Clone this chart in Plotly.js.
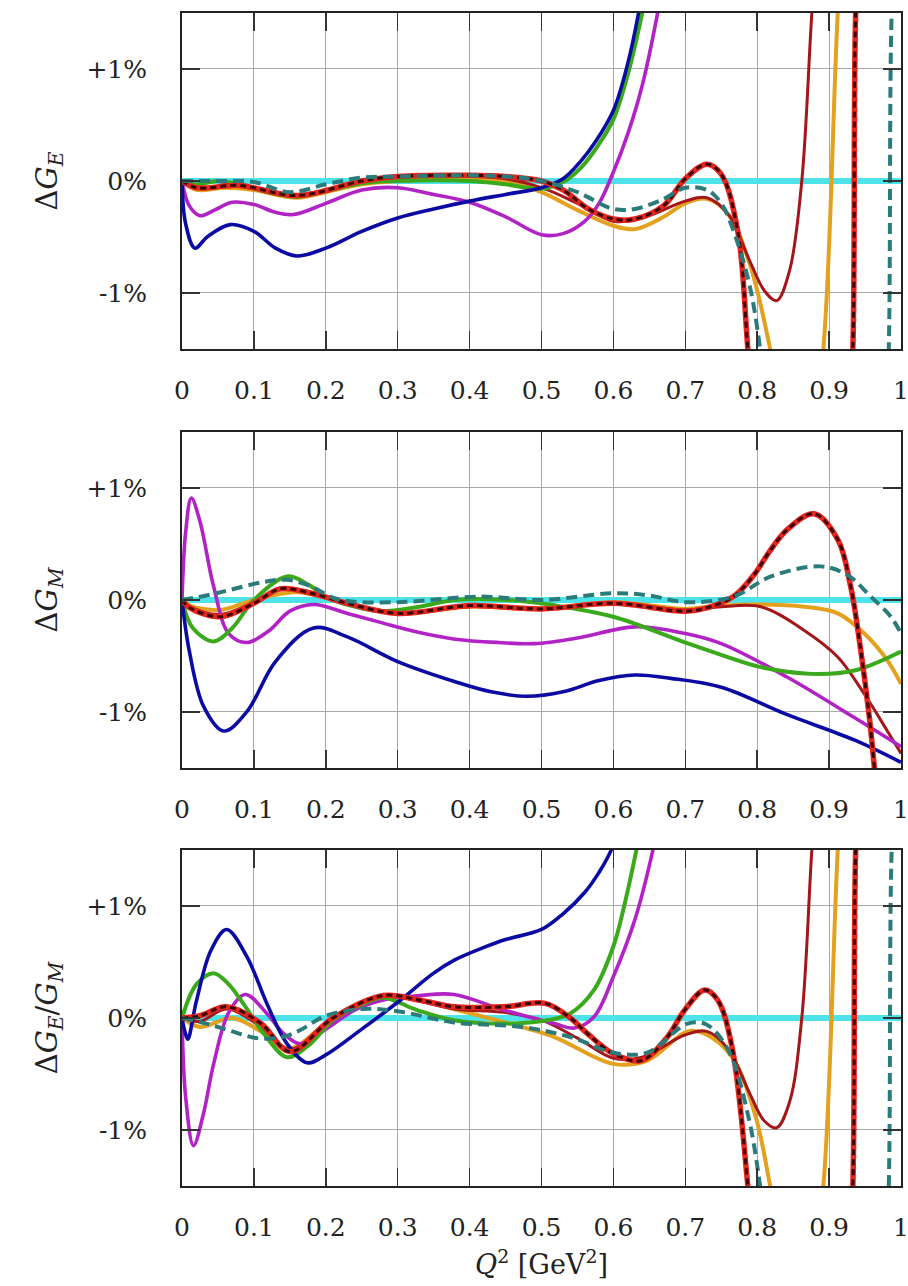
<!DOCTYPE html>
<html>
<head>
<meta charset="utf-8">
<script src="https://cdn.plot.ly/plotly-3.0.1.min.js"></script>
<style>
  html, body { margin: 0; padding: 0; background: #fff; }
  #chart { width: 908px; height: 1286px; }
</style>
</head>
<body>
<div id="chart"></div>
<script>
// ---------------- data (values in %) ----------------
// reference line
const refX = [0, 1];
const refY = [0, 0];

// ---- Panel 1: Delta G_E ----
const geBlueX = [0, 0.005, 0.018, 0.035, 0.067, 0.1, 0.13, 0.16, 0.2, 0.25, 0.3, 0.35, 0.4, 0.45, 0.5, 0.53, 0.555, 0.575, 0.6, 0.62, 0.635, 0.65];
const geBlueY = [0, -0.38, -0.6, -0.5, -0.39, -0.45, -0.6, -0.67, -0.6, -0.45, -0.33, -0.25, -0.18, -0.12, -0.06, 0.02, 0.18, 0.35, 0.63, 1.05, 1.5, 2.1];
const geGreenX = [0, 0.02, 0.05, 0.08, 0.12, 0.16, 0.2, 0.25, 0.3, 0.4, 0.45, 0.5, 0.53, 0.555, 0.58, 0.6, 0.62, 0.64, 0.66];
const geGreenY = [0, -0.03, 0.0, -0.03, -0.1, -0.14, -0.09, -0.02, 0.0, 0.0, -0.03, -0.07, -0.01, 0.12, 0.33, 0.55, 0.95, 1.5, 2.2];
const geMagentaX = [0, 0.01, 0.025, 0.045, 0.07, 0.1, 0.13, 0.155, 0.2, 0.25, 0.3, 0.35, 0.4, 0.45, 0.5, 0.53, 0.56, 0.58, 0.6, 0.62, 0.64, 0.66, 0.68];
const geMagentaY = [0, -0.22, -0.31, -0.26, -0.19, -0.21, -0.28, -0.3, -0.2, -0.08, -0.06, -0.12, -0.19, -0.32, -0.48, -0.47, -0.36, -0.2, 0.08, 0.42, 0.85, 1.45, 2.2];
const geOrangeX = [0, 0.02, 0.06, 0.1, 0.16, 0.2, 0.25, 0.3, 0.4, 0.45, 0.5, 0.55, 0.6, 0.63, 0.67, 0.7, 0.73, 0.76, 0.79, 0.818, 0.84, 0.87, 0.892, 0.912, 0.93];
const geOrangeY = [0, -0.08, -0.06, -0.08, -0.15, -0.1, -0.03, 0.0, 0.02, 0.0, -0.1, -0.26, -0.4, -0.43, -0.32, -0.2, -0.16, -0.3, -0.75, -1.5, -2.3, -2.6, -1.5, 1.5, 3.5];
const geDarkRedX = [0, 0.02, 0.08, 0.16, 0.25, 0.3, 0.4, 0.45, 0.5, 0.55, 0.6, 0.64, 0.7, 0.73, 0.76, 0.79, 0.81, 0.827, 0.845, 0.862, 0.876, 0.89];
const geDarkRedY = [0, -0.06, -0.05, -0.14, -0.01, 0.03, 0.04, 0.02, -0.06, -0.2, -0.36, -0.33, -0.18, -0.15, -0.3, -0.72, -0.98, -1.07, -0.8, 0.0, 1.5, 2.8];
const geRedX = [0, 0.02, 0.08, 0.16, 0.25, 0.3, 0.4, 0.45, 0.5, 0.53, 0.565, 0.6, 0.63, 0.67, 0.7, 0.73, 0.75, 0.773, 0.787, 0.8, 0.87, 0.925, 0.933, 0.937, 0.945];
const geRedY = [0, -0.06, -0.04, -0.13, 0.0, 0.04, 0.05, 0.04, 0.0, -0.08, -0.25, -0.34, -0.34, -0.22, 0.02, 0.15, 0.06, -0.45, -1.5, -2.5, -3.5, -2.5, -1.5, 1.5, 2.5];
const geTealX = [0, 0.05, 0.1, 0.15, 0.2, 0.25, 0.3, 0.4, 0.45, 0.5, 0.55, 0.6, 0.63, 0.67, 0.7, 0.73, 0.75, 0.77, 0.79, 0.804, 0.82, 0.92, 0.977, 0.983, 0.987, 0.995];
const geTealY = [0, 0.0, -0.01, -0.1, -0.03, 0.03, 0.04, 0.05, 0.04, 0.0, -0.1, -0.25, -0.25, -0.16, -0.06, -0.08, -0.2, -0.5, -0.95, -1.5, -2.5, -3.5, -2.5, -1.5, 1.5, 2.5];

// ---- Panel 2: Delta G_M ----
const gmBlueX = [0, 0.01, 0.03, 0.058, 0.09, 0.13, 0.183, 0.23, 0.3, 0.38, 0.43, 0.48, 0.53, 0.58, 0.63, 0.68, 0.75, 0.84, 0.935, 1.0];
const gmBlueY = [0, -0.45, -0.95, -1.17, -1.0, -0.55, -0.25, -0.33, -0.55, -0.73, -0.82, -0.86, -0.82, -0.72, -0.67, -0.7, -0.78, -1.02, -1.25, -1.45];
const gmMagentaX = [0, 0.005, 0.013, 0.025, 0.044, 0.065, 0.09, 0.12, 0.15, 0.183, 0.23, 0.276, 0.33, 0.38, 0.44, 0.49, 0.55, 0.63, 0.7, 0.75, 0.842, 0.935, 1.0];
const gmMagentaY = [0, 0.6, 0.91, 0.7, 0.12, -0.3, -0.38, -0.28, -0.1, -0.04, -0.12, -0.2, -0.29, -0.35, -0.38, -0.39, -0.34, -0.24, -0.3, -0.39, -0.69, -1.05, -1.31];
const gmGreenX = [0, 0.015, 0.044, 0.07, 0.1, 0.146, 0.175, 0.2, 0.24, 0.276, 0.33, 0.38, 0.45, 0.52, 0.6, 0.7, 0.75, 0.805, 0.875, 0.935, 1.0];
const gmGreenY = [0, -0.25, -0.37, -0.25, 0.0, 0.21, 0.14, 0.03, -0.06, -0.1, -0.06, 0.0, 0.0, -0.05, -0.15, -0.38, -0.49, -0.6, -0.66, -0.63, -0.46];
const gmOrangeX = [0, 0.011, 0.053, 0.1, 0.16, 0.2, 0.23, 0.3, 0.4, 0.5, 0.6, 0.7, 0.75, 0.8, 0.865, 0.912, 0.949, 0.981, 1.0];
const gmOrangeY = [0, -0.05, -0.09, 0.0, 0.07, 0.02, -0.03, -0.12, -0.06, -0.08, -0.02, -0.08, -0.05, -0.04, -0.06, -0.12, -0.3, -0.54, -0.75];
const gmDarkRedX = [0, 0.011, 0.053, 0.1, 0.137, 0.18, 0.23, 0.3, 0.4, 0.5, 0.6, 0.7, 0.75, 0.805, 0.865, 0.912, 0.949, 0.981, 1.0];
const gmDarkRedY = [0, -0.06, -0.13, -0.02, 0.1, 0.05, -0.03, -0.12, -0.06, -0.08, -0.03, -0.09, -0.06, -0.06, -0.27, -0.51, -0.84, -1.17, -1.37];
const gmRedX = [0, 0.011, 0.053, 0.1, 0.137, 0.18, 0.23, 0.3, 0.4, 0.5, 0.6, 0.7, 0.73, 0.767, 0.795, 0.819, 0.842, 0.879, 0.912, 0.93, 0.944, 0.956, 0.963, 0.98];
const gmRedY = [0, -0.07, -0.15, -0.03, 0.1, 0.06, -0.03, -0.12, -0.05, -0.08, -0.03, -0.1, -0.07, 0.03, 0.22, 0.45, 0.63, 0.77, 0.54, 0.12, -0.45, -1.05, -1.5, -2.8];
const gmTealX = [0, 0.034, 0.067, 0.113, 0.146, 0.18, 0.206, 0.23, 0.3, 0.415, 0.5, 0.6, 0.65, 0.7, 0.767, 0.819, 0.889, 0.926, 0.958, 0.986, 1.0];
const gmTealY = [0, 0.04, 0.09, 0.16, 0.18, 0.12, 0.03, -0.01, -0.02, 0.03, 0.0, 0.06, 0.04, -0.02, 0.03, 0.21, 0.3, 0.22, 0.03, -0.15, -0.3];

// ---- Panel 3: Delta (G_E/G_M) ----
const rBlueX = [0, 0.004, 0.008, 0.02, 0.04, 0.062, 0.09, 0.118, 0.145, 0.174, 0.2, 0.25, 0.3, 0.35, 0.38, 0.42, 0.45, 0.5, 0.53, 0.56, 0.58, 0.597, 0.61];
const rBlueY = [0, -0.12, -0.19, 0.15, 0.6, 0.79, 0.55, 0.13, -0.22, -0.4, -0.33, -0.1, 0.14, 0.4, 0.52, 0.63, 0.7, 0.79, 0.93, 1.12, 1.3, 1.5, 1.8];
const rGreenX = [0, 0.02, 0.044, 0.065, 0.085, 0.115, 0.146, 0.175, 0.21, 0.25, 0.28, 0.327, 0.378, 0.448, 0.508, 0.54, 0.573, 0.6, 0.615, 0.632, 0.65];
const rGreenY = [0, 0.3, 0.4, 0.3, 0.13, -0.15, -0.35, -0.25, -0.02, 0.12, 0.18, 0.07, -0.02, -0.05, -0.02, 0.04, 0.25, 0.64, 1.0, 1.5, 2.1];
const rMagentaX = [0, 0.005, 0.016, 0.03, 0.044, 0.065, 0.088, 0.118, 0.14, 0.164, 0.2, 0.24, 0.28, 0.33, 0.378, 0.448, 0.518, 0.546, 0.573, 0.6, 0.63, 0.655, 0.67];
const rMagentaY = [0, -0.7, -1.14, -0.85, -0.41, 0.05, 0.21, 0.04, -0.13, -0.23, -0.1, 0.07, 0.16, 0.2, 0.21, 0.07, -0.05, -0.09, 0.01, 0.37, 0.88, 1.5, 2.0];
const rOrangeX = [0, 0.025, 0.07, 0.11, 0.15, 0.21, 0.28, 0.33, 0.378, 0.472, 0.518, 0.6, 0.647, 0.703, 0.727, 0.765, 0.797, 0.818, 0.84, 0.87, 0.892, 0.912, 0.93];
const rOrangeY = [0, -0.08, 0.0, -0.12, -0.27, 0.0, 0.19, 0.16, 0.08, -0.08, -0.17, -0.41, -0.38, -0.12, -0.14, -0.35, -0.86, -1.5, -2.3, -2.6, -1.5, 1.5, 3.5];
const rDarkRedX = [0, 0.025, 0.062, 0.11, 0.15, 0.21, 0.28, 0.33, 0.378, 0.448, 0.5, 0.55, 0.6, 0.64, 0.7, 0.73, 0.76, 0.79, 0.81, 0.827, 0.845, 0.862, 0.876, 0.89];
const rDarkRedY = [0, -0.03, 0.08, -0.08, -0.28, 0.0, 0.2, 0.15, 0.08, 0.05, -0.02, -0.18, -0.36, -0.35, -0.15, -0.12, -0.28, -0.68, -0.92, -0.98, -0.75, 0.0, 1.5, 2.8];
const rRedX = [0, 0.025, 0.062, 0.11, 0.15, 0.21, 0.28, 0.33, 0.378, 0.448, 0.505, 0.54, 0.564, 0.6, 0.639, 0.675, 0.699, 0.727, 0.745, 0.765, 0.787, 0.8, 0.87, 0.925, 0.933, 0.937, 0.945];
const rRedY = [0, 0.02, 0.1, -0.05, -0.3, 0.0, 0.2, 0.16, 0.1, 0.1, 0.13, 0.0, -0.14, -0.32, -0.38, -0.17, 0.07, 0.25, 0.16, -0.26, -1.5, -2.5, -3.5, -2.5, -1.5, 1.5, 2.5];
const rTealX = [0, 0.034, 0.07, 0.104, 0.14, 0.164, 0.2, 0.25, 0.3, 0.378, 0.472, 0.54, 0.6, 0.647, 0.703, 0.73, 0.76, 0.787, 0.804, 0.82, 0.92, 0.977, 0.983, 0.987, 0.995];
const rTealY = [0, -0.05, -0.12, -0.18, -0.17, -0.11, 0.02, 0.08, 0.06, -0.04, -0.08, -0.17, -0.31, -0.31, -0.05, -0.06, -0.29, -0.86, -1.5, -2.5, -3.5, -2.5, -1.5, 1.5, 2.5];

// tick labels
const xTickVals = [0, 0.1, 0.2, 0.3, 0.4, 0.5, 0.6, 0.7, 0.8, 0.9, 1];
const xTickText = ["0", "0.1", "0.2", "0.3", "0.4", "0.5", "0.6", "0.7", "0.8", "0.9", "1"];
const yTickVals = [-1, 0, 1];
const yTickText = ["-1%", "0%", "+1%"];
const yTitles = ["Δ<i>G</i><sub><i>E</i></sub>", "Δ<i>G</i><sub><i>M</i></sub>", "Δ<i>G</i><sub><i>E</i></sub>/<i>G</i><sub><i>M</i></sub>"];
const xTitle = "<i>Q</i><sup>2</sup> [GeV<sup>2</sup>]";

// ---------------- styles ----------------
const C = {
  cyan: "#4ee3ea", blue: "#0b0ba3", green: "#3aa91c", magenta: "#b223c6",
  orange: "#e3a11e", darkred: "#a3161a", red: "#e4261f", redDash: "#3e0404", teal: "#2b7b7b"
};

const panels = [
  { s: "", blue: [geBlueX, geBlueY], green: [geGreenX, geGreenY], magenta: [geMagentaX, geMagentaY],
    orange: [geOrangeX, geOrangeY], darkred: [geDarkRedX, geDarkRedY], red: [geRedX, geRedY], teal: [geTealX, geTealY] },
  { s: "2", blue: [gmBlueX, gmBlueY], green: [gmGreenX, gmGreenY], magenta: [gmMagentaX, gmMagentaY],
    orange: [gmOrangeX, gmOrangeY], darkred: [gmDarkRedX, gmDarkRedY], red: [gmRedX, gmRedY], teal: [gmTealX, gmTealY] },
  { s: "3", blue: [rBlueX, rBlueY], green: [rGreenX, rGreenY], magenta: [rMagentaX, rMagentaY],
    orange: [rOrangeX, rOrangeY], darkred: [rDarkRedX, rDarkRedY], red: [rRedX, rRedY], teal: [rTealX, rTealY] }
];

const traces = [];
function add(p, xy, color, width, dash, name) {
  traces.push({
    type: "scatter", mode: "lines", x: xy[0], y: xy[1], name: name,
    xaxis: "x" + p.s, yaxis: "y" + p.s, showlegend: false, hoverinfo: "skip",
    line: { color: color, width: width, dash: dash || "solid", shape: "spline", smoothing: 1 }
  });
}
panels.forEach(p => {
  traces.push({ type: "scatter", mode: "lines", x: refX, y: refY, xaxis: "x" + p.s, yaxis: "y" + p.s,
    name: "reference", showlegend: false, hoverinfo: "skip", line: { color: C.cyan, width: 6 } });
  add(p, p.orange, C.orange, 4, null, "orange");
  add(p, p.darkred, C.darkred, 3, null, "darkred");
  add(p, p.magenta, C.magenta, 3.6, null, "magenta");
  add(p, p.green, C.green, 4, null, "green");
  add(p, p.blue, C.blue, 3.6, null, "blue");
  add(p, p.red, C.red, 5.5, null, "red");
  add(p, p.red, C.redDash, 3, "6px,4px", "red dashed");
  add(p, p.teal, C.teal, 4, "11px,6px", "teal dashed");
});

const fontFam = "DejaVu Serif, Liberation Serif, serif";
function xax(anchor, showTitle) {
  const a = {
    anchor: anchor, range: [0, 1], tickmode: "array", tickvals: xTickVals, ticktext: xTickText,
    ticks: "inside", ticklen: 18, tickwidth: 1.5, tickcolor: "#333", mirror: "ticks",
    showline: true, linecolor: "#222", linewidth: 2, showgrid: true, gridcolor: "#a8a8a8", gridwidth: 1,
    zeroline: false, tickfont: { family: fontFam, size: 25, color: "#222" }, ticklabelstandoff: 18,
    ticklabeloverflow: "allow", fixedrange: true
  };
  if (showTitle) a.title = { text: xTitle, font: { family: fontFam, size: 27, color: "#222" }, standoff: 14 };
  return a;
}
function yax(anchor, domain, title) {
  return {
    anchor: anchor, domain: domain, range: [-1.5, 1.5], tickmode: "array", tickvals: yTickVals, ticktext: yTickText,
    ticks: "inside", ticklen: 18, tickwidth: 1.5, tickcolor: "#333", mirror: "ticks",
    showline: true, linecolor: "#222", linewidth: 2, showgrid: true, gridcolor: "#a8a8a8", gridwidth: 1,
    zeroline: false, tickfont: { family: fontFam, size: 25, color: "#222" }, ticklabelstandoff: 28,
    ticklabeloverflow: "allow",
    title: { text: title, font: { family: fontFam, size: 29, color: "#222" }, standoff: 20 },
    fixedrange: true
  };
}

const layout = {
  width: 908, height: 1286,
  margin: { l: 182, r: 7, t: 13, b: 100 },
  paper_bgcolor: "#fff", plot_bgcolor: "#fff",
  showlegend: false,
  xaxis: xax("y", false),
  xaxis2: xax("y2", false),
  xaxis3: xax("y3", true),
  yaxis: yax("x", [0.7136, 1], yTitles[0]),
  yaxis2: yax("x2", [0.3564, 0.6428], yTitles[1]),
  yaxis3: yax("x3", [0, 0.2865], yTitles[2])
};

Plotly.newPlot("chart", traces, layout, { staticPlot: true, displayModeBar: false });
</script>
</body>
</html>
